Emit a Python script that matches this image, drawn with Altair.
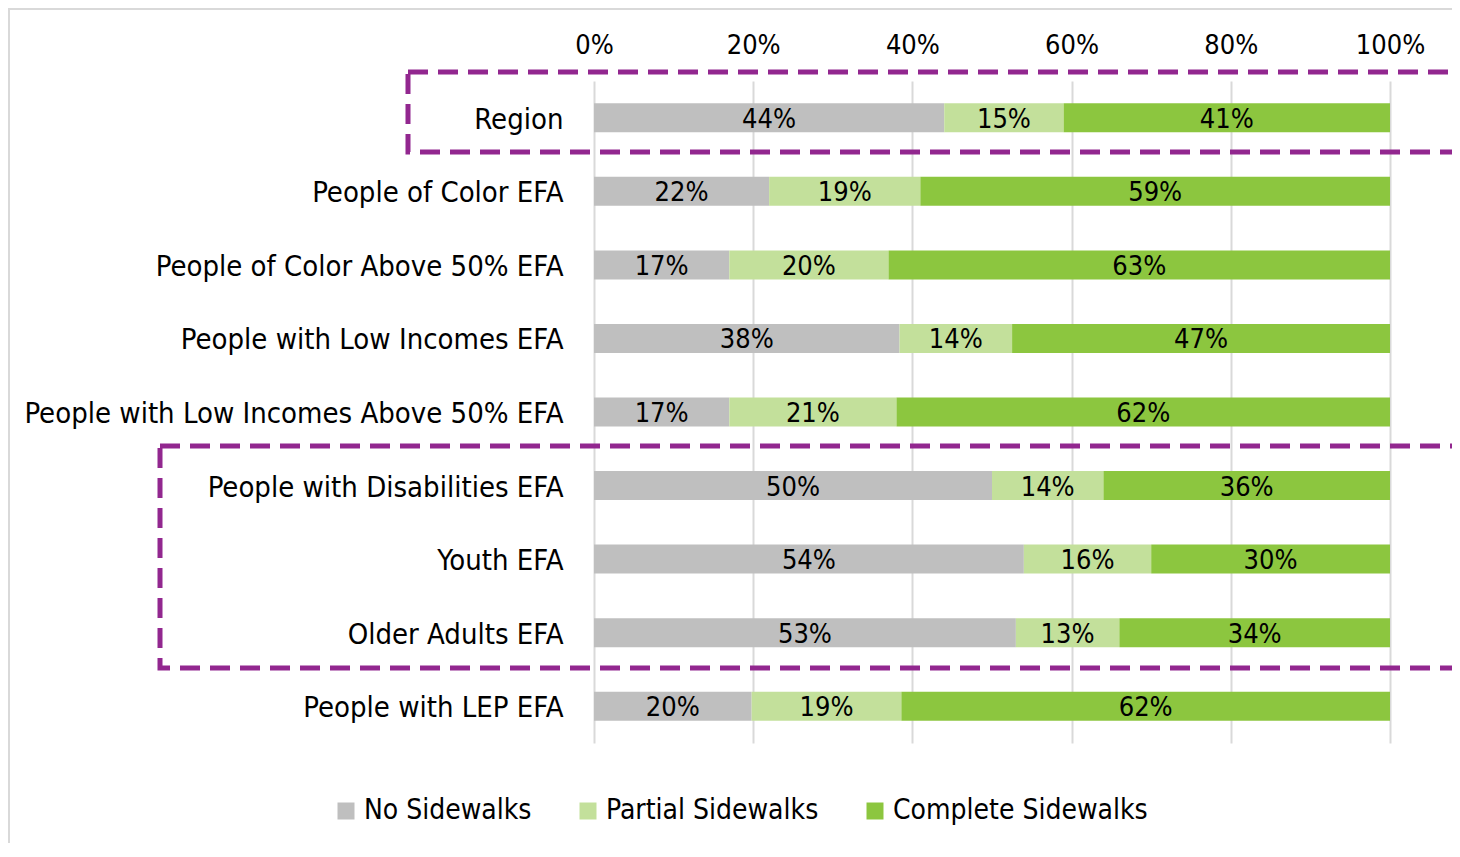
import altair as alt
import pandas as pd

categories = [
    "Region",
    "People of Color EFA",
    "People of Color Above 50% EFA",
    "People with Low Incomes EFA\u00a0",
    "People with Low Incomes Above 50% EFA",
    "People with Disabilities EFA",
    "Youth EFA",
    "Older Adults EFA",
    "People with LEP EFA",
]
no_sidewalks = [44, 22, 17, 38, 17, 50, 54, 53, 20]
partial_sidewalks = [15, 19, 20, 14, 21, 14, 16, 13, 19]
complete_sidewalks = [41, 59, 63, 47, 62, 36, 30, 34, 62]
series = ["No Sidewalks", "Partial Sidewalks", "Complete Sidewalks"]
colors = ["#BFBFBF", "#C3E09B", "#8CC63F"]
tick_values = [0, 0.2, 0.4, 0.6, 0.8, 1.0]

FONT = "DejaVu Sans Condensed, Liberation Sans Narrow, Arial Narrow, sans-serif"

rows = []
for i, c in enumerate(categories):
    for j, (s, vals) in enumerate(zip(series, [no_sidewalks, partial_sidewalks, complete_sidewalks])):
        rows.append({"cat": c, "series": s, "value": vals[i], "order": j})
df = pd.DataFrame(rows)

base = alt.Chart(df).transform_stack(
    stack="value",
    groupby=["cat"],
    as_=["v0", "v1"],
    offset="normalize",
    sort=[alt.SortField("order", order="ascending")],
).transform_calculate(
    mid="(datum.v0 + datum.v1) / 2",
    label="datum.value + '%'",
)

y_enc = alt.Y(
    "cat:N",
    sort=categories,
    title=None,
    axis=alt.Axis(
        labelFont=FONT, labelFontSize=29, labelColor="#000000", labelPadding=31,
        ticks=False, domain=False, grid=False, labelLimit=0, labelOffset=2,
    ),
)

bars = base.mark_bar(size=29).encode(
    y=y_enc,
    x=alt.X(
        "v0:Q",
        scale=alt.Scale(domain=[0, 1], nice=False),
        title=None,
        axis=alt.Axis(
            orient="top", format="%", values=tick_values, ticks=False, domain=False,
            grid=True, gridColor="#D9D9D9", gridWidth=2, labelFlush=False,
            labelFont=FONT, labelFontSize=27, labelColor="#000000", labelPadding=22,
        ),
    ),
    x2="v1:Q",
    color=alt.Color(
        "series:N",
        scale=alt.Scale(domain=series, range=colors),
        legend=alt.Legend(
            orient="none", legendX=-262, legendY=716, direction="horizontal", title=None,
            labelFont=FONT, labelFontSize=28, labelColor="#000000", labelLimit=0,
            symbolType="square", symbolSize=289, symbolStrokeWidth=0,
            labelOffset=4, columnPadding=42,
        ),
    ),
    order=alt.Order("order:Q"),
)

texts = base.mark_text(font=FONT, fontSize=27, color="#000000", baseline="middle", dy=2).encode(
    y=alt.Y("cat:N", sort=categories),
    x=alt.X("mid:Q"),
    text="label:N",
)

one = pd.DataFrame({"k": [0]})
box_style = dict(fill=None, fillOpacity=0, stroke="#92278F", strokeWidth=5, strokeDash=[20, 10])

box1 = alt.Chart(one).mark_rect(**box_style).encode(
    x=alt.value(-186), x2=alt.value(900), y=alt.value(-9), y2=alt.value(71)
)
box2 = alt.Chart(one).mark_rect(**box_style).encode(
    x=alt.value(-434), x2=alt.value(900), y=alt.value(365), y2=alt.value(587)
)
frame = alt.Chart(one).mark_rect(fill=None, fillOpacity=0, stroke="#D9D9D9", strokeWidth=2).encode(
    x=alt.value(-585), x2=alt.value(864), y=alt.value(-72), y2=alt.value(766)
)

chart = alt.layer(frame, bars, texts, box1, box2).properties(
    width=796,
    height=662,
    autosize=alt.AutoSizeParams(type="none"),
    padding={"left": 586, "top": 73, "right": 62, "bottom": 100},
    background="white",
).configure_view(stroke=None)

chart.save("out.html", embed_options={"renderer": "svg", "actions": False})
